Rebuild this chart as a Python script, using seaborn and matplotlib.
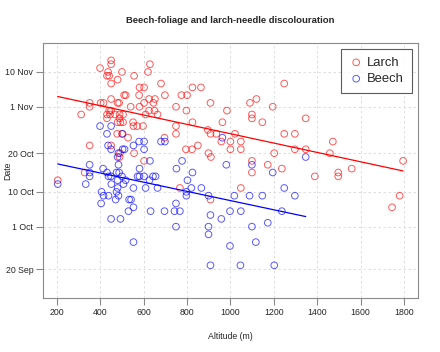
import matplotlib
matplotlib.use("Agg")
import matplotlib.pyplot as plt
import seaborn as sns
import pandas as pd

sns.set_style("white")
plt.rcParams["font.family"] = ["Liberation Sans", "DejaVu Sans"]

# ---- data: altitude (m) and day of year of discolouration ----
larch_alt = [450, 450, 399, 436, 431, 441, 500, 629, 620, 556, 480, 450, 680, 581, 602,
             825, 864, 1248, 510, 517, 579, 698, 774, 800, 1090, 1120, 1195, 625, 652, 450,
             351, 351, 402, 415, 480, 487, 602, 645, 908, 581, 540, 749, 450, 312, 441,
             468, 431, 445, 431, 489, 489, 505, 625, 650, 664, 609, 797, 984, 1099, 1099,
             1147, 1347, 480, 493, 505, 551, 570, 597, 553, 825, 963, 749, 749, 478, 500,
             528, 696, 896, 908, 935, 1021, 1248, 1297, 958, 1000, 1048, 1472, 795, 823, 850,
             1000, 1048, 1297, 1347, 351, 491, 489, 556, 899, 910, 1202, 1458, 602, 1099, 1172,
             1237, 1099, 1389, 1497, 1497, 1559, 1796, 328, 204, 767, 1048, 908, 1780, 1745,
             450]
larch_day = [317, 316, 315, 314, 313, 313, 314, 316, 314, 313, 312, 311, 311, 310, 310,
             310, 310, 311, 308, 308, 308, 308, 308, 308, 306, 307, 305, 307, 307, 307,
             306, 305, 306, 306, 306, 306, 306, 306, 306, 305, 305, 305, 304, 303, 304,
             303, 303, 303, 302, 303, 302, 303, 304, 304, 303, 303, 304, 304, 303, 302,
             301, 302, 301, 301, 301, 301, 300, 300, 300, 301, 301, 300, 298, 298, 298,
             297, 297, 299, 298, 298, 298, 298, 298, 296, 296, 296, 296, 294, 294, 295,
             294, 294, 294, 294, 295, 293, 292, 293, 293, 292, 293, 293, 291, 291, 290,
             289, 288, 287, 288, 287, 289, 291, 288, 286, 284, 284, 281, 282, 279,
             295]

beech_alt = [399, 450, 431, 503, 436, 450, 503, 512, 484, 480, 553, 579, 602, 602, 680,
             698, 629, 963, 777, 751, 825, 981, 351, 351, 351, 333, 204, 484, 413, 431,
             438, 450, 475, 487, 480, 517, 581, 572, 643, 655, 507, 553, 609, 406, 415,
             438, 475, 484, 471, 404, 533, 542, 553, 530, 632, 696, 450, 493, 802, 749,
             742, 767, 749, 820, 797, 797, 866, 899, 908, 958, 899, 899, 998, 1048, 1018,
             1088, 1099, 1117, 998, 908, 1046, 1347, 1099, 1195, 1248, 1147, 1297, 1237, 1172, 1202,
             451, 480, 553, 581, 602, 627, 664, 500]
beech_day = [300, 300, 298, 298, 295, 294, 294, 294, 293, 292, 295, 296, 296, 294, 296,
             296, 291, 297, 291, 289, 288, 290, 290, 288, 287, 285, 285, 290, 289, 288,
             287, 287, 288, 288, 286, 286, 287, 287, 287, 287, 285, 284, 284, 283, 282,
             282, 283, 282, 281, 280, 281, 281, 279, 278, 278, 278, 276, 276, 286, 280,
             278, 278, 274, 284, 283, 282, 284, 282, 277, 276, 274, 272, 278, 278, 282,
             282, 274, 270, 269, 264, 264, 292, 290, 288, 284, 282, 282, 278, 275, 264,
             285, 284, 270, 289, 287, 286, 284, 287]

date_ticks = [263, 274, 283, 293, 305, 314]
date_labels = ["20 Sep", "1 Oct", "10 Oct", "20 Oct", "1 Nov", "10 Nov"]
alt_ticks = list(range(200, 1801, 200))

df = pd.concat([
    pd.DataFrame({"alt": larch_alt, "day": larch_day, "species": "Larch"}),
    pd.DataFrame({"alt": beech_alt, "day": beech_day, "species": "Beech"}),
])
colors = {"Larch": "#ff0000", "Beech": "#0000ff"}

fig = plt.figure(figsize=(4.4, 3.52), dpi=100)
ax = fig.add_axes([0.0977, 0.154, 0.852, 0.724])

for sp in ["Larch", "Beech"]:
    sub = df[df["species"] == sp]
    sns.regplot(data=sub, x="alt", y="day", ax=ax, ci=None, color=colors[sp],
                label=sp, truncate=True,
                scatter_kws={"facecolors": "none", "s": 23, "linewidths": 0.7,
                             "alpha": 0.65},
                line_kws={"lw": 0.9, "alpha": 1})

ax.set_xlim(136, 1864)
ax.set_ylim(255.6, 321.5)
ax.set_xticks(alt_ticks)
ax.set_yticks(date_ticks)
ax.set_yticklabels(date_labels)
ax.grid(True, ls=(0, (3, 3)), color="#d8d8d8", lw=0.6)
ax.set_axisbelow(True)
for s in ax.spines.values():
    s.set_color("#8a8a8a")
    s.set_linewidth(0.8)
ax.tick_params(direction="out", length=5, width=0.8, color="#8a8a8a",
               labelsize=6.3, pad=2, left=True, bottom=True)
ax.set_xlabel("Altitude (m)", fontsize=6.3, labelpad=11)
ax.set_ylabel("Date", fontsize=6.3)
ax.yaxis.set_label_coords(-0.082, 0.5)

fig.text(0.5235, 0.943, "Beech-foliage and larch-needle discolouration",
         ha="center", va="center", fontsize=6.8, fontweight="bold")

leg = ax.legend(loc="upper right", fontsize=9.4, frameon=True, fancybox=False,
                borderaxespad=0.45, handletextpad=0.3, labelspacing=0.32,
                borderpad=0.6, handlelength=1.1)
leg.get_frame().set_edgecolor("#333333")
leg.get_frame().set_linewidth(0.8)

fig.savefig("out.png", dpi=100)
